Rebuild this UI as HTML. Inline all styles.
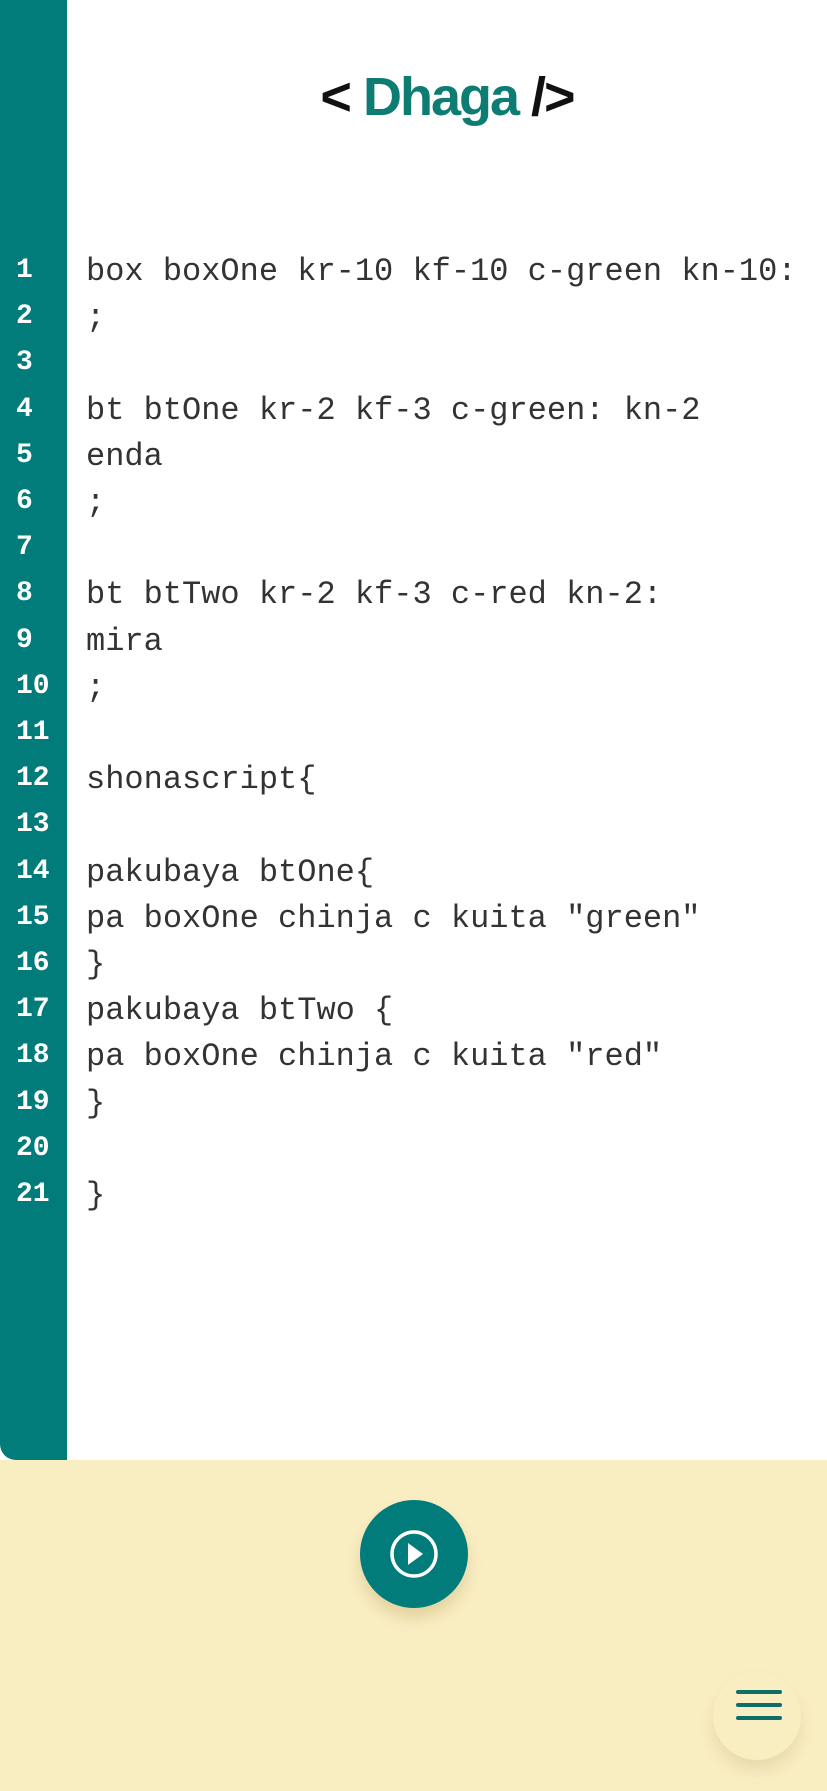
<!DOCTYPE html>
<html><head><meta charset="utf-8"><style>
html,body{margin:0;padding:0;}
body{width:827px;height:1791px;position:relative;background:#fff;overflow:hidden;font-family:"Liberation Sans",sans-serif;}
.side{position:absolute;left:0;top:0;width:67px;height:1460px;background:#027b7b;border-bottom-left-radius:16px;}
.bottom{position:absolute;left:0;top:1460px;width:827px;height:331px;background:#f9edc2;}
.title{position:absolute;left:67px;width:760px;top:66px;text-align:center;font-weight:bold;font-size:54px;color:#111;letter-spacing:-2px;}
.title span{color:#0d7d73;}
.ln{position:absolute;left:16px;color:#fff;font-weight:bold;font-family:"Liberation Mono",monospace;font-size:28px;}
.code{position:absolute;left:86px;color:#333;font-family:"Liberation Mono",monospace;font-size:32px;white-space:pre;}
.play{position:absolute;left:360px;top:1500px;width:108px;height:108px;border-radius:50%;background:#027b7b;box-shadow:0 10px 14px rgba(200,180,120,0.45);}
.menu{position:absolute;left:713px;top:1672px;width:88px;height:88px;border-radius:50%;box-shadow:0 10px 14px rgba(200,180,120,0.3);}
.bar{position:absolute;left:736px;width:46px;height:4px;background:#0d6f6a;border-radius:2px;}
</style></head><body>
<div class="side"></div>
<div class="bottom"></div>
<div class="title">&lt; <span>Dhaga</span> /&gt;</div>
<div id="c"></div>
<div class="play"><svg width="108" height="108" viewBox="0 0 108 108"><circle cx="54" cy="54" r="22" fill="none" stroke="#fff" stroke-width="3.5"/><polygon points="48,43 48,65 63,54" fill="#fff"/></svg></div>
<div class="menu"></div>
<div class="bar" style="top:1690px"></div>
<div class="bar" style="top:1703px"></div>
<div class="bar" style="top:1716px"></div>
<script>
var lines=["box boxOne kr-10 kf-10 c-green kn-10:",";","","bt btOne kr-2 kf-3 c-green: kn-2","enda",";","","bt btTwo kr-2 kf-3 c-red kn-2:","mira",";","","shonascript{","","pakubaya btOne{","pa boxOne chinja c kuita \"green\"","}","pakubaya btTwo {","pa boxOne chinja c kuita \"red\"","}","","}"];
var h="";
for(var i=0;i<lines.length;i++){var y=253+i*46.2;
h+='<div class="ln" style="top:'+(y+2)+'px">'+(i+1)+'</div>';
var t=document.createElement('div');t.textContent=lines[i];
h+='<div class="code" style="top:'+y+'px">'+t.innerHTML+'</div>';}
document.getElementById('c').innerHTML=h;
</script>
</body></html>
